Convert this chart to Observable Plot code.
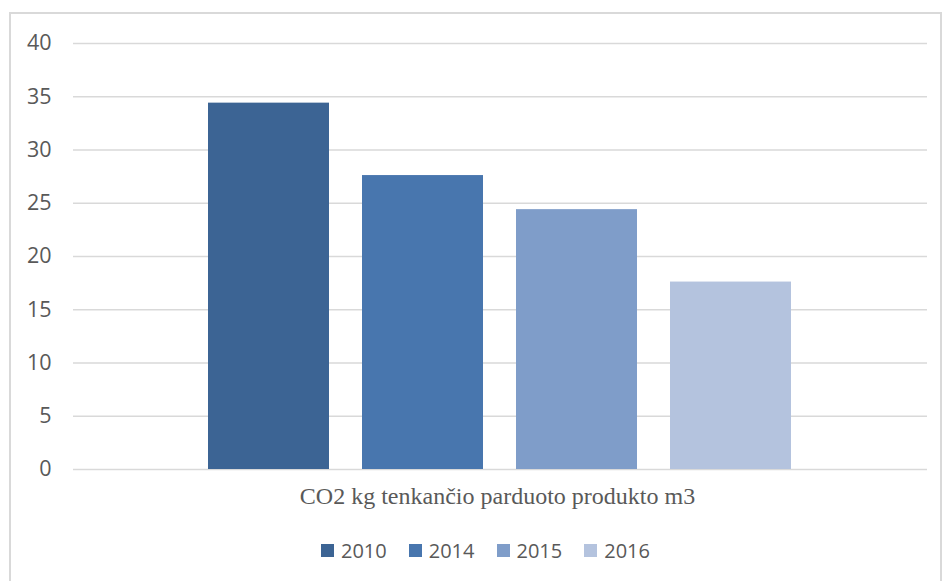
<!DOCTYPE html>
<html>
<head>
<meta charset="utf-8">
<script src="https://cdn.jsdelivr.net/npm/d3@7"></script>
<script src="https://cdn.jsdelivr.net/npm/@observablehq/plot@0.6"></script>
<style>
  html, body { margin: 0; padding: 0; background: #fff; }
  #wrap { position: relative; width: 945px; height: 581px; overflow: hidden; }
  #frame { position: absolute; left: 9px; top: 12px; width: 933px; height: 600px; border: 2px solid #d9d9d9; box-sizing: border-box; }
  #chart { position: absolute; left: 0; top: 0; }
  #chart svg text { font-size: 21.5px; }
  #xlabel { position: absolute; left: 25px; width: 945px; top: 483px; text-align: center;
    font-family: "Liberation Serif", "Times New Roman", serif; font-size: 24px; color: #595959; }
  #legend { position: absolute; left: 13px; width: 945px; top: 537px; display: flex; justify-content: center;
    font-family: "Open Sans", sans-serif; font-size: 20px; color: #595959; }
  .item { display: flex; align-items: center; margin: 0 11px; }
  .sw { width: 13px; height: 13px; margin-right: 7px; }
</style>
</head>
<body>
<div id="wrap">
  <div id="frame"></div>
  <div id="chart"></div>
  <div id="xlabel"></div>
  <div id="legend"></div>
</div>
<script>
const years = ["2010", "2014", "2015", "2016"];
const values = [34.4, 27.6, 24.4, 17.6];
const colors = ["#3c6494", "#4876ae", "#7f9dc9", "#b4c3de"];
const yTicks = [0, 5, 10, 15, 20, 25, 30, 35, 40];
const xTitle = "CO2 kg tenkančio parduoto produkto m3";

const data = years.map((y, i) => ({year: y, value: values[i]}));

const chart = Plot.plot({
  width: 945,
  height: 482,
  marginTop: 43,
  marginBottom: 13,
  marginLeft: 73,
  marginRight: 18,
  style: {background: "transparent", fontFamily: "Open Sans, sans-serif", fontSize: "21.5px", color: "#595959"},
  x: {domain: years, range: [190.5, 809.5], paddingInner: 0.213, paddingOuter: 0.1065, axis: null},
  y: {domain: [0, 40], ticks: yTicks, label: null},
  color: {domain: years, range: colors},
  marks: [
    Plot.ruleY(yTicks, {stroke: "#d9d9d9", strokeWidth: 1.5}),
    Plot.barY(data, {x: "year", y: "value", fill: "year"}),
    Plot.axisY({ticks: yTicks, tickSize: 0, tickPadding: 22, label: null, fill: "#595959", fontSize: 21.5})
  ]
});
document.getElementById("chart").appendChild(chart);
document.getElementById("xlabel").textContent = xTitle;

const legend = document.getElementById("legend");
years.forEach((y, i) => {
  const it = document.createElement("div");
  it.className = "item";
  const sw = document.createElement("div");
  sw.className = "sw";
  sw.style.background = colors[i];
  const t = document.createElement("span");
  t.textContent = y;
  it.appendChild(sw); it.appendChild(t);
  legend.appendChild(it);
});
</script>
</body>
</html>
